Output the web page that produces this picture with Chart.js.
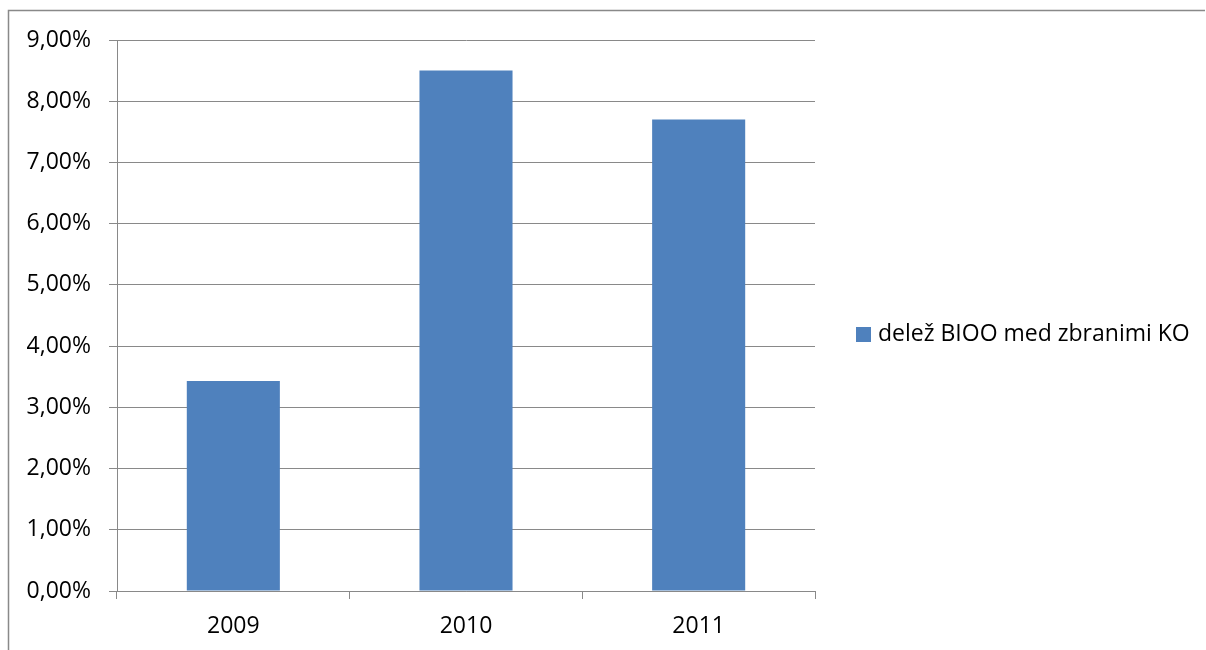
<!DOCTYPE html>
<html>
<head>
<meta charset="utf-8">
<script src="https://cdn.jsdelivr.net/npm/chart.js@4"></script>
<style>
    html, body { margin: 0; padding: 0; background: #fff; }
    #wrap { width: 1206px; height: 650px; position: relative; }
</style>
</head>
<body>
<div id="wrap"><canvas id="chart" width="1206" height="650"></canvas></div>
<script>
const years = ['2009', '2010', '2011'];
const shares = [3.43, 8.50, 7.70]; // delež v %
const seriesName = 'delež BIOO med zbranimi KO';

const FONT = "'Open Sans', sans-serif";
const GREY = '#898989';

// outer frame + legend, drawn by hand like the office chart
const framePlugin = {
    id: 'frame',
    beforeDraw: function(chart) {
        const ctx = chart.ctx;
        ctx.save();
        ctx.strokeStyle = GREY;
        ctx.lineWidth = 1.5;
        ctx.beginPath();
        ctx.moveTo(8.5, 650);
        ctx.lineTo(8.5, 10.5);
        ctx.lineTo(1205, 10.5);
        ctx.stroke();
        ctx.restore();
    },
    afterDraw: function(chart) {
        const ctx = chart.ctx;
        const ds = chart.data.datasets[0];
        ctx.save();
        ctx.fillStyle = ds.backgroundColor;
        ctx.fillRect(856, 327, 15, 15);
        ctx.font = '23px ' + FONT;
        ctx.fillStyle = '#000';
        ctx.textBaseline = 'middle';
        ctx.textAlign = 'left';
        ctx.fillText(ds.label, 878, 334);
        ctx.restore();
    }
};

new Chart(document.getElementById('chart').getContext('2d'), {
    type: 'bar',
    data: {
        labels: years,
        datasets: [{
            label: seriesName,
            data: shares,
            backgroundColor: '#4F81BD',
            borderWidth: 0,
            categoryPercentage: 1,
            barPercentage: 0.4
        }]
    },
    options: {
        responsive: false,
        animation: false,
        layout: {
            padding: { top: 40, right: 391, left: 0, bottom: 0 }
        },
        plugins: {
            legend: { display: false },
            tooltip: { enabled: false }
        },
        scales: {
            x: {
                afterFit: scale => { scale.height = 59; },
                grid: {
                    drawOnChartArea: false,
                    drawTicks: true,
                    tickLength: 8,
                    color: GREY
                },
                border: { display: true, color: GREY },
                ticks: {
                    color: '#000',
                    padding: 14,
                    font: { family: FONT, size: 23 }
                }
            },
            y: {
                min: 0,
                max: 9,
                afterFit: scale => { scale.width = 117; },
                grid: {
                    color: GREY,
                    tickLength: 8
                },
                border: { display: true, color: GREY },
                ticks: {
                    stepSize: 1,
                    color: '#000',
                    padding: 18,
                    font: { family: FONT, size: 23 },
                    callback: v => v.toFixed(2).replace('.', ',') + '%'
                }
            }
        }
    },
    plugins: [framePlugin]
});
</script>
</body>
</html>
